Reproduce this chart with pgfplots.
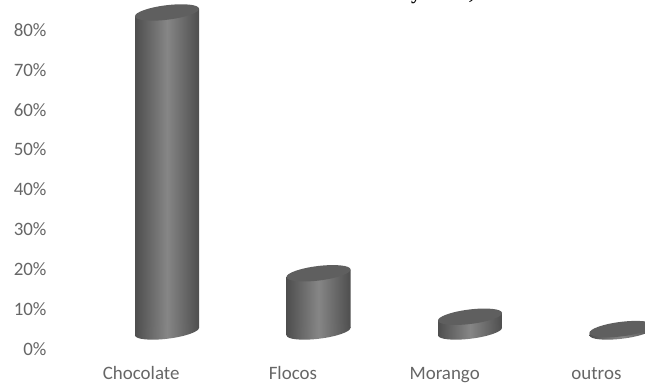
\documentclass[border=0pt]{standalone}
\usepackage{pgfplots}
\usepackage{pgfplotstable}
\pgfplotsset{compat=1.18}
\usepackage{fontspec}
\setmainfont{Carlito}
\newfontfamily\serifbold{Liberation Serif}
\usetikzlibrary{shapes.geometric}
\definecolor{ticktext}{HTML}{666666}
\definecolor{sideedge}{HTML}{4E4E4E}
\definecolor{sidemid}{HTML}{868686}
\definecolor{capface}{HTML}{5F5F5F}

% category positions and shares of the four flavours
\pgfplotstableread{
x val
0 80
1 14.6
2 3.7
3 0.6
}\shares

\tikzset{side shade/.style={left color=sideedge, right color=sideedge, middle color=sidemid}}

\pgfplotsset{
  page box/.style={scale only axis, clip=false, axis line style={draw=none},
    major tick length=0pt, tick style={draw=none}},
  cylinder end/.style={nodes near coords={}, every node near coord/.append style={
    shape=ellipse, inner sep=0pt, minimum width=64.5bp, minimum height=14.5bp,
    rotate=7, anchor=center, #1}},
}

\begin{document}
\begin{tikzpicture}[x=1bp,y=1bp]
\clip (0,0) rectangle (645,383);
\path[use as bounding box] (0,0) rectangle (645,383);

% fragment of the heading, cut by the upper edge
\node[anchor=base west, inner sep=0pt, font=\serifbold\bfseries\fontsize{20}{20}\selectfont] at (411,383.5) {y};
\node[anchor=base west, inner sep=0pt, font=\serifbold\bfseries\fontsize{20}{20}\selectfont] at (469,383.5) {,};

% percentage scale and category names
\begin{axis}[page box, at={(55bp,34bp)}, anchor=south west,
  width=590bp, height=349bp,
  xmin=-0.5677, xmax=3.3201, ymin=0, ymax=87.52,
  xtick={0,1,2,3}, xticklabels={Chocolate,Flocos,Morango,outros},
  ytick={0,10,...,80}, yticklabel={\pgfmathprintnumber{\tick}\%},
  /pgf/number format/assume math mode=true,
  ticklabel style={font=\fontsize{19}{19}\selectfont, text=ticktext},
  xticklabel style={anchor=base, yshift=-30bp},
  yticklabel style={anchor=east, xshift=-5bp},
]
\end{axis}

% cylinders, on their own scale so the floor sits behind the scale's zero
\begin{axis}[page box, at={(0bp,0bp)}, anchor=south west,
  width=645bp, height=383bp, clip=true, hide axis,
  xmin=-1.1023, xmax=3.1551, ymin=-12.92, ymax=83.13,
]
\addplot[draw=none, fill=none, cylinder end={side shade}]
  table[x=x, y expr=0] {\shares};
% one closed body per cylinder, tilted like its end faces, each with its own gradient
\addplot[draw=none, side shade] coordinates {(-0.2112,-0.92) (0.2112,0.92) (0.2112,80.92) (-0.2112,79.08)} -- cycle;
\addplot[draw=none, side shade] coordinates {(0.7888,-0.92) (1.2112,0.92) (1.2112,15.52) (0.7888,13.68)} -- cycle;
\addplot[draw=none, side shade] coordinates {(1.7888,-0.92) (2.2112,0.92) (2.2112,4.62) (1.7888,2.78)} -- cycle;
\addplot[draw=none, side shade] coordinates {(2.7888,-0.92) (3.2112,0.92) (3.2112,1.52) (2.7888,-0.32)} -- cycle;
\addplot[draw=none, fill=none, cylinder end={fill=capface}]
  table[x=x, y=val] {\shares};
\end{axis}
\end{tikzpicture}
\end{document}
